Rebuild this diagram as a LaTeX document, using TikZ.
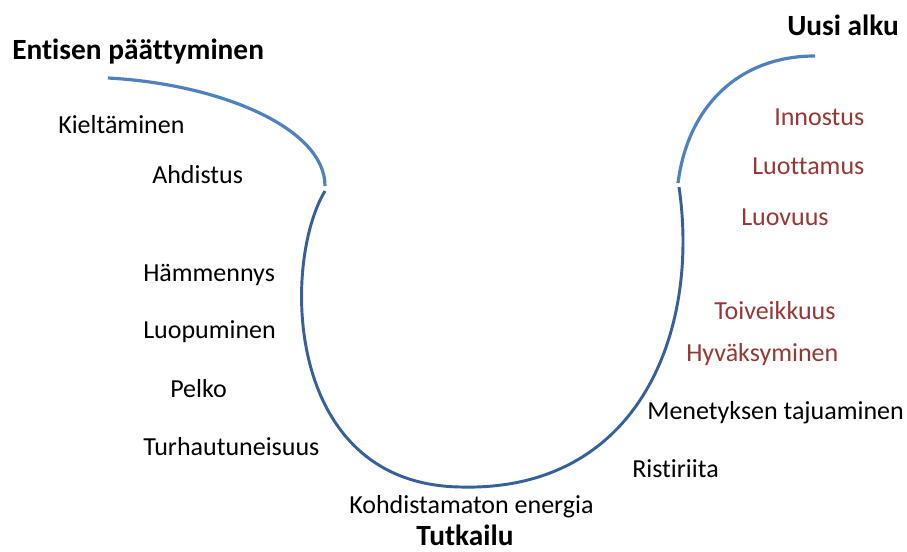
\documentclass[tikz,border=0pt]{standalone}
\usepackage{fontspec}
\setmainfont{Carlito}[Ligatures=NoCommon]
\definecolor{arclight}{HTML}{4F81BD}
\definecolor{arcdark}{HTML}{35609A}
\definecolor{hopered}{HTML}{953735}
\begin{document}
\begin{tikzpicture}[x=0.75pt,y=-0.75pt,
  lbl/.style={anchor=west,inner sep=0pt,font=\fontsize{19.5}{22}\selectfont},
  poslbl/.style={lbl,text=hopered},
  ttl/.style={anchor=west,inner sep=0pt,font=\fontsize{22}{26}\selectfont\bfseries},
  lightarc/.style={draw=arclight,line width=2.4pt},
  darkarc/.style={draw=arcdark,line width=2.2pt}]
\useasboundingbox (0,0) rectangle (907,552);

% phase titles
\node[ttl] (t1) at (12,52) {Entisen päättyminen};
\node[ttl] (t2) at (787,25) {Uusi alku};
\node[ttl] (t3) at (416,535) {Tutkailu};

% ending phase
\node[lbl] (a1) at (58,125) {Kieltäminen};
\node[lbl] (a2) at (152,175) {Ahdistus};
% neutral zone
\node[lbl] (b1) at (143,275) {Hämmennys};
\node[lbl] (b2) at (143,332) {Luopuminen};
\node[lbl] (b3) at (170,389) {Pelko};
\node[lbl] (b4) at (143,447) {Turhautuneisuus};
\node[lbl] (b5) at (349,507) {Kohdistamaton energia};
\node[lbl] (b6) at (632,469) {Ristiriita};
\node[lbl] (b7) at (647,413) {Menetyksen tajuaminen};
% new beginning
\node[poslbl] (c1) at (686,355) {Hyväksyminen};
\node[poslbl] (c2) at (714,311) {Toiveikkuus};
\node[poslbl] (c3) at (741,217) {Luovuus};
\node[poslbl] (c4) at (752,166) {Luottamus};
\node[poslbl] (c5) at (774,117) {Innostus};

% transition curve
\coordinate (p0) at (108,78);
\coordinate (p1) at (325,186);
\coordinate (p2) at (325,191);
\coordinate (p3) at (460,487);
\coordinate (p4) at (679,187);
\coordinate (p5) at (678,183);
\coordinate (p6) at (815,56);
\draw[lightarc] (p0) .. controls (220,84) and (325,128) .. (p1);
\draw[darkarc] (p2) .. controls (282,262) and (283,484) .. (p3)
  .. controls (640,492) and (700,330) .. (p4);
\draw[lightarc] (p5) .. controls (688,105) and (740,56) .. (p6);
\end{tikzpicture}
\end{document}
